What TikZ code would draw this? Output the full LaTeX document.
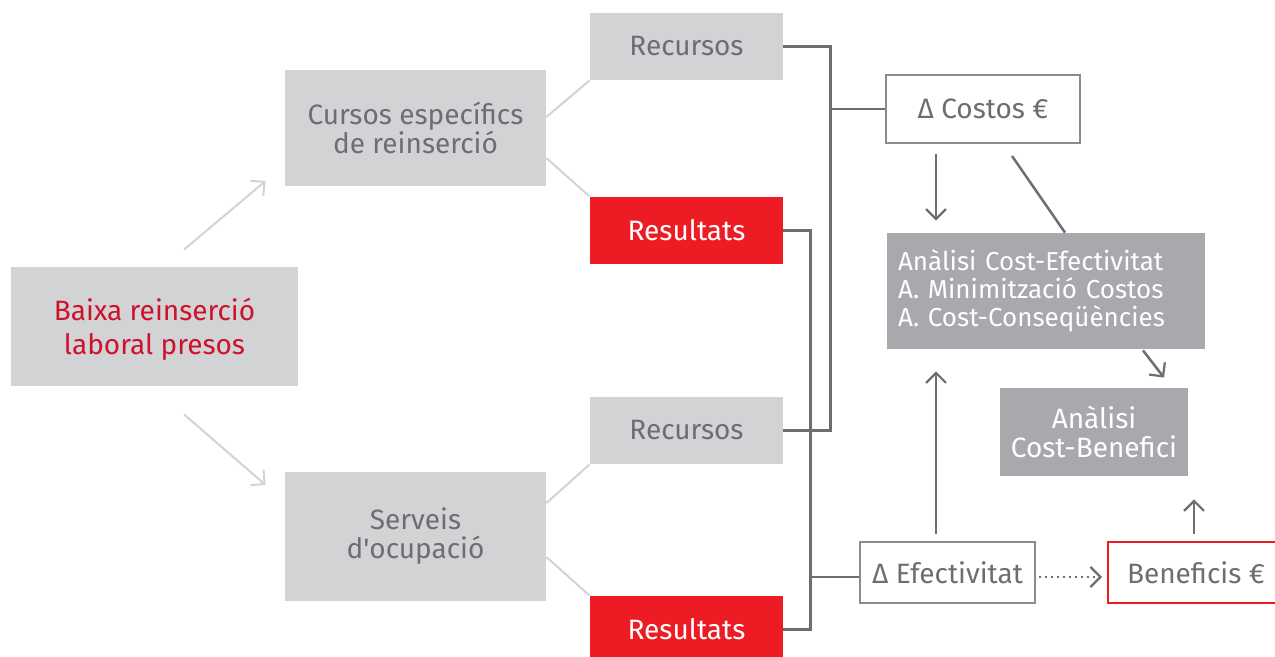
\documentclass[tikz,border=0pt]{standalone}
\usepackage{fontspec}
\setmainfont{Fira Sans}
\usepackage{tikz}
\usetikzlibrary{positioning,calc,arrows.meta}
\definecolor{boxgray}{HTML}{D1D3D4}
\definecolor{midgray}{HTML}{A7A9AC}
\definecolor{linegray}{HTML}{6D6E71}
\definecolor{boxred}{HTML}{ED1C24}
\definecolor{textred}{HTML}{D0112B}
\tikzset{
  graybox/.style={rectangle,fill=boxgray,text=linegray,inner sep=0pt,align=center},
  redbox/.style={rectangle,fill=boxred,text=white,inner sep=0pt,align=center},
  darkbox/.style={rectangle,fill=midgray,text=white,inner sep=0pt,align=center},
  linebox/.style={rectangle,draw=linegray!80,line width=1pt,fill=white,text=linegray,inner sep=0pt},
  conn/.style={draw=linegray,line width=1.25pt},
  arr/.style={conn,-{Straight Barb[length=5pt,width=10pt,line width=1.1pt]}},
  lightarr/.style={draw=boxgray,line width=1pt,-{Straight Barb[length=5pt,width=10pt]}},
  lightline/.style={draw=boxgray,line width=1pt}
}

\begin{document}
\begin{tikzpicture}[x=0.5pt,y=-0.5pt,font=\fontsize{14}{14.5}\selectfont]
  \useasboundingbox (0,0) rectangle (1275,657);
  \clip (0,0) rectangle (1275,657);
  % left side
  \node[graybox,text=textred,font=\fontsize{14}{17}\selectfont,minimum width=143.5pt,minimum height=59.5pt] (baixa) at (154.5,326.5) {\rule{0pt}{14pt}Baixa reinserció\\laboral presos};
  \node[graybox,minimum width=130.5pt,minimum height=58pt] (cursos) at (415.5,128) {Cursos específics\\de reinserció};
  \node[graybox,minimum width=130.5pt,minimum height=64.5pt] (serveis) at (415.5,536.5) {Serveis\\d\textquotesingle ocupació};
  \node[graybox,minimum width=96.5pt,minimum height=33.5pt] (recA) at (686.5,46.5) {Recursos};
  \node[redbox,minimum width=96.5pt,minimum height=33.5pt] (resA) at (686.5,230.5) {Resultats};
  \node[graybox,minimum width=96.5pt,minimum height=33.5pt] (recB) at (686.5,430.5) {Recursos};
  \node[redbox,minimum width=96.5pt,minimum height=33.5pt] (resB) at (686.5,629.5) {Resultats};
  % right side
  \node[linebox,minimum width=97pt,minimum height=34pt] (costos) at (983,109) {Δ Costos €};
  \node[darkbox,align=left,inner xsep=5.5pt,text width=148pt,minimum height=58pt,font=\fontsize{13}{14}\selectfont] (ace) at (1046,291) {Anàlisi Cost-Efectivitat\\A. Minimització Costos\\A. Cost-Conseqüències};
  \node[darkbox,minimum width=94pt,minimum height=44pt] (acb) at (1094,432) {Anàlisi\\Cost-Benefici};
  \node[linebox,minimum width=87.5pt,minimum height=30.5pt] (efect) at (947.5,572.5) {Δ Efectivitat};
  \node[linebox,draw=boxred,minimum width=88pt,minimum height=30.5pt] (benef) at (1196,572.5) {Beneficis €};

  \draw[lightarr] ([shift={(29.5,-17)}]baixa.north) -- ([shift={(-19,53)}]cursos.west);
  \draw[lightarr] ([shift={(29.5,28)}]baixa.south) -- ([shift={(-19,-51.5)}]serveis.west);
  \draw[lightline] ([shift={(0,-11)}]cursos.east) -- (recA.south west);
  \draw[lightline] ([shift={(0,30)}]cursos.east) -- (resA.north west);
  \draw[lightline] ([shift={(0,-33.5)}]serveis.east) -- (recB.south west);
  \draw[lightline] ([shift={(0,20.5)}]serveis.east) -- (resB.north west);

  % brackets
  \draw[conn] (recA.east) -- ++(47,0) coordinate (jA) |- (recB.east);
  \draw[conn] (jA |- costos.west) -- (costos.west);
  \draw[conn] (resA.east) -- ++(27,0) coordinate (jB) |- (resB.east);
  \draw[conn] ([shift={(0,4.5)}]jB |- efect.west) -- ([shift={(0,4.5)}]efect.west);

  % arrows
  \draw[arr] ([shift={(-47,10)}]costos.south) -- ([shift={(-110,-12)}]ace.north);
  \draw[conn] ([shift={(29,12)}]costos.south) -- ([shift={(19,0)}]ace.north);
  \draw[arr] ([shift={(97,1)}]ace.south) -- ([shift={(70,-10)}]acb.north);
  \draw[arr] ([shift={(-11.5,-7)}]efect.north) -- ([shift={(-110,22)}]ace.south);
  \draw[arr] ([shift={(-2,-7)}]benef.north) -- ([shift={(100,23)}]acb.south);
  \draw[arr,line width=1pt,dotted] ([shift={(3,4.5)}]efect.east) -- ([shift={(-5,4.5)}]benef.west);
\end{tikzpicture}
\end{document}
